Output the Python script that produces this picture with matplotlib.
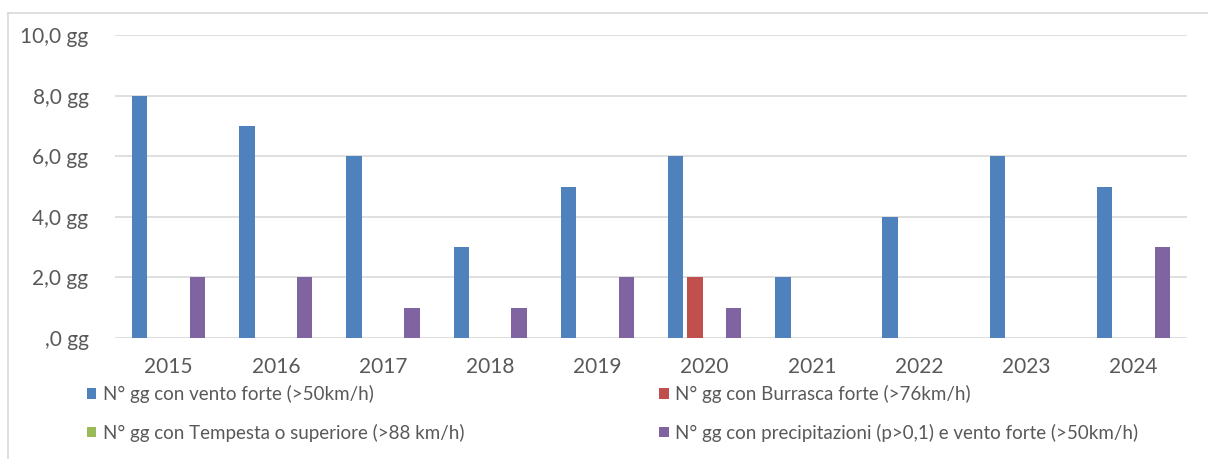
import matplotlib
matplotlib.use("Agg")
import matplotlib.pyplot as plt
from matplotlib.lines import Line2D
from matplotlib.patches import Patch
import numpy as np

years = ["2015", "2016", "2017", "2018", "2019", "2020", "2021", "2022", "2023", "2024"]
vento_forte = [8, 7, 6, 3, 5, 6, 2, 4, 6, 5]
burrasca = [0, 0, 0, 0, 0, 2, 0, 0, 0, 0]
tempesta = [0, 0, 0, 0, 0, 0, 0, 0, 0, 0]
precip_vento = [2, 2, 1, 1, 2, 1, 0, 0, 0, 3]

series_labels = [
    "N° gg con vento forte (>50km/h)",
    "N° gg con Burrasca forte (>76km/h)",
    "N° gg con Tempesta o superiore (>88 km/h)",
    "N° gg con precipitazioni (p>0,1) e vento forte (>50km/h)",
]
ytick_vals = [0, 2, 4, 6, 8, 10]
ytick_labels = [",0 gg", "2,0 gg", "4,0 gg", "6,0 gg", "8,0 gg", "10,0 gg"]

colors = ["#4f81bd", "#c0504d", "#9bbb59", "#8064a2"]
text_color = "#595959"
grid_color = "#d9d9d9"

plt.rcParams.update({"font.family": ["Lato", "DejaVu Sans"], "font.size": 14.5})

W, H = 1208, 459
fig = plt.figure(figsize=(W / 100, H / 100), dpi=100)
ax = fig.add_axes([115 / W, (H - 338) / H, (1187 - 115) / W, (338 - 35) / H])

x = np.arange(len(years))
slot = 0.18
width = 0.143
all_series = [vento_forte, burrasca, tempesta, precip_vento]
handles = []
for i, (vals, c, lab) in enumerate(zip(all_series, colors, series_labels)):
    ax.bar(x + (i - 1.5) * slot, vals, width=width, color=c, zorder=3)
    handles.append(Patch(facecolor=c, label=lab))

ax.set_xlim(-0.5, len(years) - 0.5)
ax.set_ylim(0, 10)
ax.set_xticks(x)
ax.set_xticklabels(years)
ax.set_yticks(ytick_vals)
ax.set_yticklabels(ytick_labels)
ax.tick_params(axis="both", length=0, colors=text_color, labelsize=15)
ax.tick_params(axis="y", pad=19)
ax.tick_params(axis="x", pad=14)
ax.yaxis.grid(True, color=grid_color, linewidth=1.2, zorder=0)
for s in ax.spines.values():
    s.set_visible(False)

# legend filled column-wise, so reorder to get blue/red on row 1, green/purple on row 2
order = [handles[0], handles[2], handles[1], handles[3]]
leg = fig.legend(handles=order, ncol=2, loc="upper left",
                 bbox_to_anchor=(70 / W, 1 - 368 / H), frameon=False,
                 handlelength=0.5, handleheight=0.5, handletextpad=0.35,
                 columnspacing=10.4, labelspacing=1.1, fontsize=13.5,
                 labelcolor=text_color)

# outer chart frame (left and top edges visible)
fig.add_artist(Line2D([8 / W, 8 / W], [0, 1 - 13 / H], transform=fig.transFigure,
                      color=grid_color, linewidth=1.2))
fig.add_artist(Line2D([8 / W, 1], [1 - 13 / H, 1 - 13 / H], transform=fig.transFigure,
                      color=grid_color, linewidth=1.2))

fig.savefig("out.png", dpi=100)
